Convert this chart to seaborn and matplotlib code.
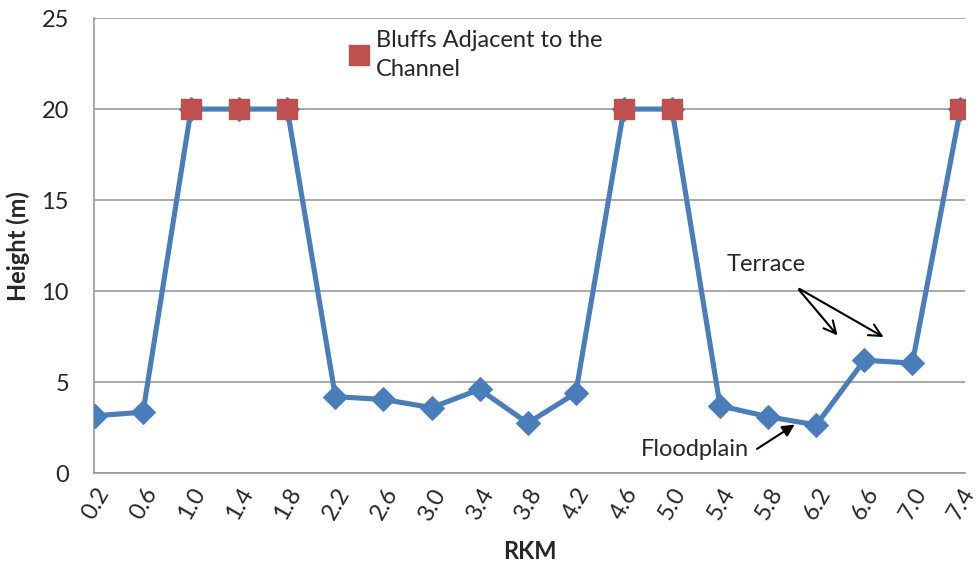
import matplotlib
matplotlib.use("Agg")
import matplotlib.pyplot as plt
import seaborn as sns
import pandas as pd
import numpy as np

rkm = ["0.2", "0.6", "1.0", "1.4", "1.8", "2.2", "2.6", "3.0", "3.4", "3.8",
       "4.2", "4.6", "5.0", "5.4", "5.8", "6.2", "6.6", "7.0", "7.4"]
height = [3.15, 3.35, 20, 20, 20, 4.2, 4.05, 3.6, 4.6, 2.75,
          4.4, 20, 20, 3.7, 3.1, 2.65, 6.2, 6.05, 20]
bluff = [False, False, True, True, True, False, False, False, False, False,
         False, True, True, False, False, False, False, False, True]

sns.set_theme(style="white")
plt.rcParams['font.family'] = ['Lato', 'DejaVu Sans']

df = pd.DataFrame({"RKM": rkm, "Height": height, "Bluff": bluff})
blue = "#4A7EBB"
red = "#C0504D"
fs = 17

fig = plt.figure(figsize=(9.79, 5.82), dpi=100)
ax = fig.add_axes([0.096, 0.187, 0.89, 0.782])

sns.lineplot(data=df, x="RKM", y="Height", ax=ax, color=blue, lw=3.7,
             marker="D", markersize=12, markeredgecolor=blue, sort=False, zorder=3)
b = df[df["Bluff"]]
ax.plot(b["RKM"], b["Height"], ls="none", marker="s", markersize=14,
        color=red, markeredgecolor=red, zorder=4, label="Bluffs Adjacent to the\nChannel")

ax.set_ylim(0, 25)
ax.set_yticks([0, 5, 10, 15, 20, 25])
ax.set_xlim(-0.02, len(rkm) - 1 + 0.1)
ax.yaxis.grid(True, color="#9a9a9a", lw=1.2)
ax.xaxis.grid(False)
for s in ["top", "right"]:
    ax.spines[s].set_visible(False)
for s in ["left", "bottom"]:
    ax.spines[s].set_color("#9a9a9a")
    ax.spines[s].set_linewidth(1.2)

ax.tick_params(axis="y", labelsize=fs, pad=18, length=0)
ax.tick_params(axis="x", labelsize=fs, pad=8, length=0)
plt.setp(ax.get_xticklabels(), rotation=60, ha="right", rotation_mode="anchor")
ax.set_xlabel("RKM", fontsize=fs, fontweight="bold", labelpad=12)
ax.set_ylabel("Height (m)", fontsize=fs, fontweight="bold", labelpad=8)

leg = ax.legend(handles=[ax.lines[-1]], loc="upper left", bbox_to_anchor=(0.28, 1.0),
                frameon=False, fontsize=fs, handlelength=0.8, handletextpad=0.3,
                borderaxespad=0.1)
for t in leg.get_texts():
    t.set_linespacing(1.5)

ax.text(13.95, 11.45, "Terrace", fontsize=fs, ha="center", va="center")
ax.annotate("", xy=(15.48, 7.45), xytext=(14.6, 10.2),
            arrowprops=dict(arrowstyle="->", color="black", lw=1.5, mutation_scale=22))
ax.annotate("", xy=(16.45, 7.4), xytext=(14.6, 10.2),
            arrowprops=dict(arrowstyle="->", color="black", lw=1.5, mutation_scale=22))
ax.text(13.6, 1.3, "Floodplain", fontsize=fs, ha="right", va="center")
ax.annotate("", xy=(14.6, 2.75), xytext=(13.72, 1.25),
            arrowprops=dict(arrowstyle="-|>", color="black", lw=1.5, mutation_scale=18))

fig.savefig("out.png", dpi=100)
